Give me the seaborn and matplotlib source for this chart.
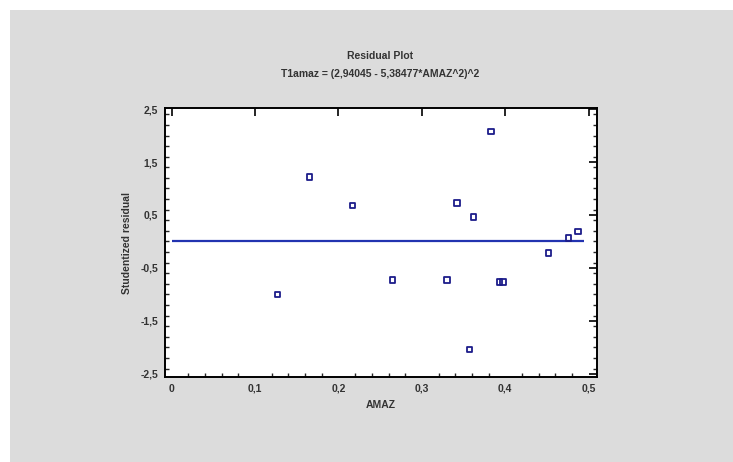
import matplotlib
matplotlib.use("Agg")
import matplotlib.pyplot as plt
import matplotlib.ticker as mticker
from matplotlib.patches import Rectangle
import seaborn as sns
import pandas as pd

# Residuals of the fitted model against AMAZ
amaz = [0.127, 0.165, 0.217, 0.265, 0.330, 0.342, 0.357, 0.362, 0.383,
        0.393, 0.397, 0.452, 0.476, 0.487]
residual = [-1.00, 1.22, 0.675, -0.73, -0.73, 0.73, -2.04, 0.46, 2.08,
            -0.77, -0.77, -0.22, 0.06, 0.185]
x_ticks = [0, 0.1, 0.2, 0.3, 0.4, 0.5]
y_ticks = [-2.5, -1.5, -0.5, 0.5, 1.5, 2.5]

title = "Residual Plot"
subtitle = "T1amaz = (2,94045 - 5,38477*AMAZ^2)^2"

df = pd.DataFrame({"AMAZ": amaz, "resid": residual})

sns.set_theme(style="white")
plt.rcParams["font.family"] = ["Liberation Sans", "DejaVu Sans"]

fig = plt.figure(figsize=(7.33, 4.62), dpi=100, facecolor="white")
# grey panel behind the chart
fig.patches.append(Rectangle((10 / 733, 0), 1, 1 - 10 / 462,
                             transform=fig.transFigure, facecolor="#dcdcdc",
                             edgecolor="none", zorder=-10))

ax = fig.add_axes([165 / 733, 1 - 377 / 462, 432 / 733, 269 / 462])
ax.set_facecolor("white")

navy = "#1c1c8a"
ax.hlines(0, 0, max(amaz) + 0.007, color="#2233b0", lw=1.6, zorder=2)
sns.scatterplot(data=df, x="AMAZ", y="resid", ax=ax, marker="s", s=16,
                facecolor="none", edgecolor=navy, linewidth=1.3, zorder=3)

ax.set_xlim(-0.008, 0.51)
ax.set_ylim(-2.56, 2.52)
ax.set_xticks(x_ticks)
ax.set_yticks(y_ticks)
ax.xaxis.set_minor_locator(mticker.MultipleLocator(0.02))
ax.yaxis.set_minor_locator(mticker.MultipleLocator(0.2))


def comma(v, pos=None):
    s = f"{v:g}"
    return s.replace(".", ",")


ax.xaxis.set_major_formatter(mticker.FuncFormatter(comma))
ax.yaxis.set_major_formatter(mticker.FuncFormatter(comma))

ax.tick_params(axis="both", which="major", direction="in", length=6, width=1.2,
               labelsize=7.5, colors="black", pad=5,
               top=True, right=True)
ax.tick_params(axis="both", which="minor", direction="in", length=3, width=1,
               top=False, right=True, bottom=True, left=True)
for lab in ax.get_xticklabels() + ax.get_yticklabels():
    lab.set_fontweight("bold")
    lab.set_color("#333333")

for sp in ax.spines.values():
    sp.set_color("black")
    sp.set_linewidth(1.4)

ax.set_xlabel("AMAZ", fontsize=7.5, fontweight="bold", color="#333333", labelpad=4)
ax.set_ylabel("Studentized residual", fontsize=7.5, fontweight="bold",
              color="#333333", labelpad=6)

fig.text(380 / 733, 1 - 56 / 462, title, ha="center", va="center",
         fontsize=7.5, fontweight="bold", color="#333333")
fig.text(380 / 733, 1 - 74 / 462, subtitle, ha="center", va="center",
         fontsize=7.5, fontweight="bold", color="#333333")

fig.savefig("out.png", dpi=100, facecolor=fig.get_facecolor())
